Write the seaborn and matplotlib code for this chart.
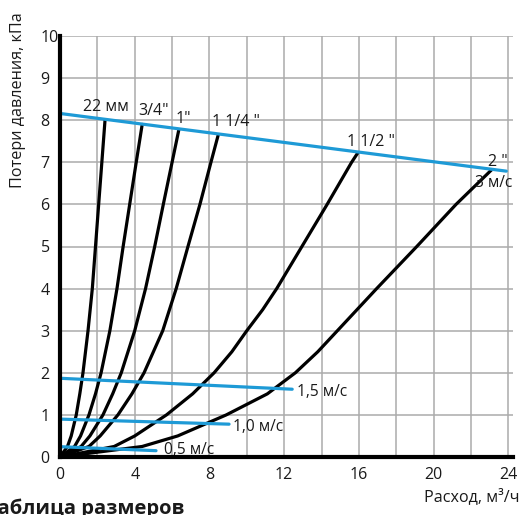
import numpy as np
import pandas as pd
import seaborn as sns
import matplotlib
matplotlib.use('Agg')
import matplotlib.pyplot as plt

##### Data #####
# pressure-loss curves: flow (m3/h) at given pressure loss (kPa)
pipe_labels = ['22 мм', '3/4"', '1"', '1 1/4 "', '1 1/2 "', '2 "']
flow_22mm = [0, 0.4, 0.6, 0.87, 1.06, 1.23, 1.5, 1.73, 1.9, 2.07, 2.24, 2.41]
loss_22mm = [0, 0.25, 0.5, 1, 1.5, 2, 3, 4, 5, 6, 7, 8.0]
flow_34 = [0, 0.78, 1.1, 1.55, 1.9, 2.2, 2.67, 3.05, 3.38, 3.73, 4.08, 4.4]
loss_34 = [0, 0.25, 0.5, 1, 1.5, 2, 3, 4, 5, 6, 7, 7.9]
flow_1 = [0, 1.13, 1.6, 2.3, 2.82, 3.28, 4.0, 4.58, 5.07, 5.53, 6.0, 6.36]
loss_1 = [0, 0.25, 0.5, 1, 1.5, 2, 3, 4, 5, 6, 7, 7.77]
flow_114 = [0, 1.55, 2.15, 3.1, 3.85, 4.5, 5.5, 6.22, 6.85, 7.49, 8.08, 8.47]
loss_114 = [0, 0.25, 0.5, 1, 1.5, 2, 3, 4, 5, 6, 7, 7.65]
flow_112 = [0, 2.9, 4.0, 5.7, 7.1, 8.25, 9.2, 10.0, 10.85, 11.6, 12.95, 14.3, 15.61, 15.95]
loss_112 = [0, 0.25, 0.5, 1, 1.5, 2, 2.5, 3, 3.5, 4, 5, 6, 7, 7.23]
flow_2 = [0, 4.4, 6.3, 8.9, 11.1, 12.6, 13.8, 14.85, 16.95, 19.1, 21.2, 23.1]
loss_2 = [0, 0.25, 0.5, 1, 1.5, 2, 2.5, 3, 4, 5, 6, 6.82]

# velocity lines (start / end points)
speed_labels = ['3 м/с', '1,5 м/с', '1,0 м/с', '0,5 м/с']
speed_x = [[0, 23.89], [0, 12.43], [0, 9.05], [0, 5.14]]
speed_y = [[8.16, 6.79], [1.87, 1.61], [0.90, 0.78], [0.245, 0.15]]

# label anchor points (left, middle)
pipe_label_x = [1.23, 4.18, 6.16, 8.12, 15.36, 22.9]
pipe_label_y = [8.31, 8.22, 8.03, 7.96, 7.48, 7.0]
speed_label_x = [22.2, 12.67, 9.28, 5.57]
speed_label_y = [6.51, 1.55, 0.71, 0.17]

x_ticks = list(range(0, 25, 2))
y_ticks = list(range(0, 11))

##### Style #####
sns.set_theme(style='whitegrid')
plt.rcParams['font.family'] = ['Open Sans', 'DejaVu Sans']
blue = '#1E9AD6'
grid_grey = '#ABABAB'
ink = '#1a1a1a'

fig = plt.figure(figsize=(5.22, 5.15), dpi=100)
ax = fig.add_axes([60/522, 58/515, 453/522, 421/515])
ax.set_facecolor('white')

curves = [(flow_22mm, loss_22mm), (flow_34, loss_34), (flow_1, loss_1),
          (flow_114, loss_114), (flow_112, loss_112), (flow_2, loss_2)]
for fx, ly in curves:
    sns.lineplot(x=fx, y=ly, color='black', linewidth=2.3, sort=False,
                 estimator=None, ax=ax, zorder=3)

for sx, sy in zip(speed_x, speed_y):
    sns.lineplot(x=sx, y=sy, color=blue, linewidth=2.3, sort=False,
                 estimator=None, ax=ax, zorder=4)

for lbl, lx, ly in zip(pipe_labels, pipe_label_x, pipe_label_y):
    ax.text(lx, ly, lbl, fontsize=11.5, ha='left', va='center', color=ink, zorder=5)
for lbl, lx, ly in zip(speed_labels, speed_label_x, speed_label_y):
    ax.text(lx, ly, lbl, fontsize=11.2, ha='left', va='center', color=ink, zorder=5)

# Axes
ax.set_xlim(0, 24.25)
ax.set_ylim(0, 10)
ax.set_xticks(x_ticks)
ax.set_xticklabels([str(v) if v % 4 == 0 else '' for v in x_ticks])
ax.set_yticks(y_ticks)
ax.set_yticklabels([str(v) for v in y_ticks])
ax.grid(True, color=grid_grey, linewidth=1.1)
ax.set_axisbelow(True)
ax.tick_params(axis='both', length=0, labelsize=11.5, colors=ink)
ax.tick_params(axis='x', pad=7)
ax.tick_params(axis='y', pad=14)
for lab in ax.get_yticklabels():
    lab.set_horizontalalignment('left')
for side in ['top', 'right']:
    ax.spines[side].set_visible(False)
for side in ['left', 'bottom']:
    ax.spines[side].set_color('black')
    ax.spines[side].set_linewidth(3)
    ax.spines[side].set_zorder(6)
ax.set_xlabel('')
ax.set_ylabel('')

fig.text(18/522, 1 - 12/515, 'Потери давления, кПа', rotation=90, ha='center',
         va='top', fontsize=11.6, color=ink)
fig.text(520/522, 1 - 497/515, 'Расход, м³/ч', ha='right', va='center',
         fontsize=11.6, color=ink)
fig.text(-14/522, 1 - 499/515, 'Таблица размеров', ha='left', va='top',
         fontsize=14.5, fontweight='bold', color=ink)

fig.savefig('out.png', dpi=100)
